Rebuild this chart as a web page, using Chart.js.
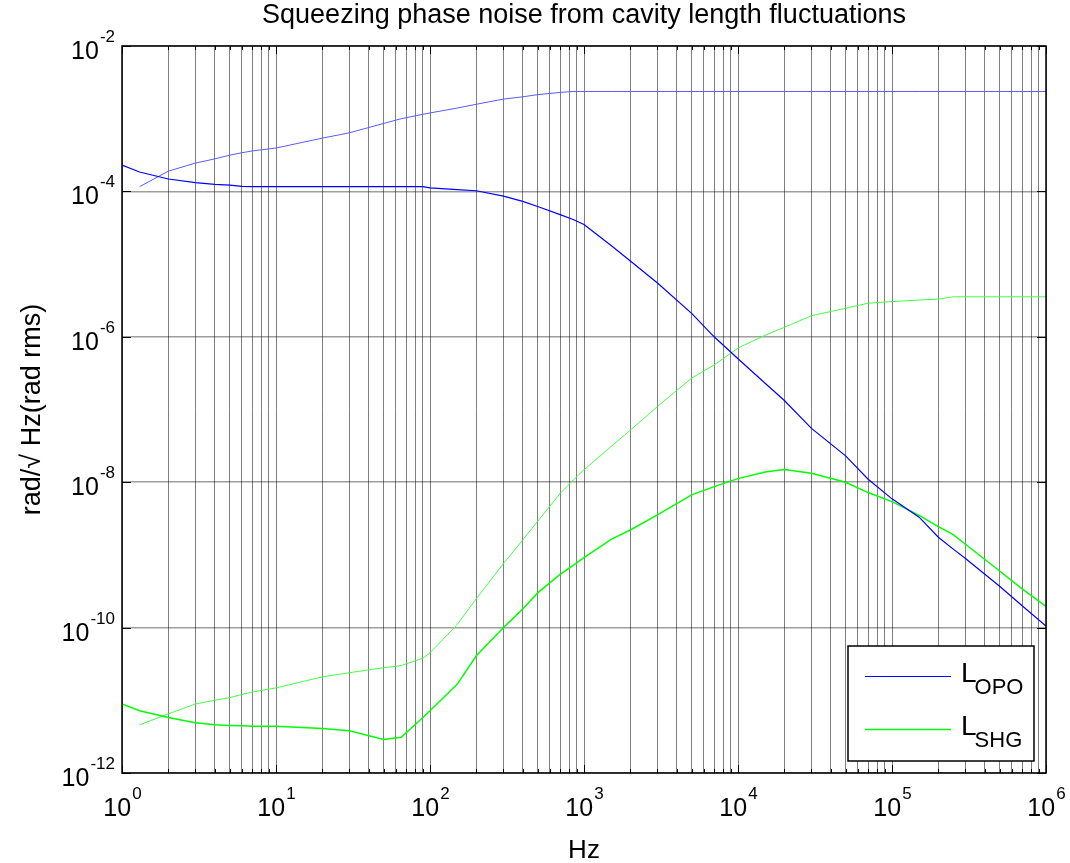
<!DOCTYPE html>
<html>
<head>
<meta charset="utf-8">
<script src="https://cdn.jsdelivr.net/npm/chart.js@4.4.1/dist/chart.umd.min.js"></script>
<style>
  html, body { margin: 0; padding: 0; background: #fff; }
  canvas { display: block; }
</style>
</head>
<body>
<canvas id="noise" width="1070" height="863"></canvas>
<script>
// frequency grid (Hz) shared by every trace
const freq = [1, 1.3, 2, 3, 4, 5, 6, 7, 10, 20, 30, 50, 65, 90,
  100, 150, 200, 300, 400, 500, 700, 850, 1000, 1500, 2000, 3000, 5000, 7000,
  1e4, 1.5e4, 2e4, 3e4, 5e4, 7e4, 1e5, 1.5e5, 2e5, 2.5e5, 3e5, 5e5, 7e5, 1e6];

// OPO length noise -> phase noise
const opoMain = [2.3e-4, 1.85e-4, 1.48e-4, 1.32e-4, 1.25e-4, 1.22e-4, 1.17e-4, 1.16e-4, 1.16e-4, 1.16e-4, 1.16e-4, 1.16e-4, 1.16e-4, 1.16e-4,
  1.12e-4, 1.06e-4, 1.02e-4, 8.6e-5, 7.3e-5, 6.2e-5, 4.8e-5, 4.1e-5, 3.5e-5, 1.8e-5, 1.1e-5, 5.5e-6, 2.1e-6, 1.0e-6,
  5.0e-7, 2.3e-7, 1.33e-7, 5.5e-8, 2.3e-8, 1.1e-8, 5.9e-9, 3.3e-9, 1.75e-9, 1.2e-9, 8.9e-10, 3.7e-10, 2.0e-10, 1.05e-10];
// OPO rms (cumulative)
const opoRms = [null, 1.16e-4, 1.9e-4, 2.45e-4, 2.8e-4, 3.15e-4, 3.4e-4, 3.6e-4, 3.95e-4, 5.4e-4, 6.4e-4, 8.6e-4, 1.0e-3, 1.15e-3,
  1.2e-3, 1.4e-3, 1.58e-3, 1.86e-3, 2.0e-3, 2.14e-3, 2.3e-3, 2.37e-3, 2.37e-3, 2.37e-3, 2.37e-3, 2.37e-3, 2.37e-3, 2.37e-3,
  2.37e-3, 2.37e-3, 2.37e-3, 2.37e-3, 2.37e-3, 2.37e-3, 2.37e-3, 2.37e-3, 2.37e-3, 2.37e-3, 2.37e-3, 2.37e-3, 2.37e-3, 2.37e-3];
// SHG length noise -> phase noise
const shgMain = [8.9e-12, 7.2e-12, 5.8e-12, 4.9e-12, 4.6e-12, 4.5e-12, 4.45e-12, 4.4e-12, 4.4e-12, 4.1e-12, 3.8e-12, 2.9e-12, 3.1e-12, 5.8e-12,
  7.2e-12, 1.66e-11, 4.1e-11, 1.0e-10, 1.8e-10, 3.0e-10, 5.4e-10, 7.2e-10, 9.2e-10, 1.64e-9, 2.2e-9, 3.55e-9, 6.7e-9, 8.7e-9,
  1.12e-8, 1.38e-8, 1.5e-8, 1.33e-8, 1.0e-8, 7.2e-9, 5.4e-9, 3.5e-9, 2.45e-9, 1.9e-9, 1.4e-9, 6.0e-10, 3.4e-10, 1.95e-10];
// SHG rms (cumulative)
const shgRms = [null, 4.6e-12, 6.5e-12, 8.9e-12, 1.0e-11, 1.09e-11, 1.2e-11, 1.3e-11, 1.48e-11, 2.1e-11, 2.4e-11, 2.8e-11, 3.0e-11, 3.8e-11,
  4.5e-11, 1.1e-10, 2.5e-10, 7.6e-10, 1.6e-9, 2.9e-9, 7.0e-9, 1.07e-8, 1.48e-8, 3.1e-8, 5.2e-8, 1.1e-7, 2.7e-7, 4.1e-7,
  7.0e-7, 1.05e-6, 1.35e-6, 1.95e-6, 2.47e-6, 2.9e-6, 3.05e-6, 3.2e-6, 3.3e-6, 3.55e-6, 3.55e-6, 3.55e-6, 3.55e-6, 3.55e-6];

// axis decades that get a label
const xTickExps = [0, 1, 2, 3, 4, 5, 6];
const yTickExps = [-2, -4, -6, -8, -10, -12];

const legendNames = [['L', 'OPO'], ['L', 'SHG']];

const FONT = '"Liberation Sans", Arial, Helvetica, sans-serif';

// 1..9 x 10^k for the vertical grid
const xGridVals = [];
for (let k = xTickExps[0]; k < xTickExps[xTickExps.length - 1]; k++) {
  for (let m = 1; m <= 9; m++) xGridVals.push(m * Math.pow(10, k));
}
xGridVals.push(Math.pow(10, xTickExps[xTickExps.length - 1]));
const yGridVals = yTickExps.map(e => Math.pow(10, e)).reverse();

function pts(arr) {
  return freq.map((f, i) => ({ x: f, y: arr[i] })).filter(p => p.y !== null);
}

// "10" with a raised exponent
function drawPow(ctx, exp, x, baseY, align) {
  ctx.font = `25px ${FONT}`;
  const bw = ctx.measureText('10').width;
  ctx.font = `17px ${FONT}`;
  const ew = ctx.measureText(String(exp)).width;
  let left;
  if (align === 'right') left = x - bw - ew;
  else left = x - (bw + ew) / 2;
  ctx.textAlign = 'left';
  ctx.textBaseline = 'alphabetic';
  ctx.font = `25px ${FONT}`;
  ctx.fillText('10', left, baseY);
  ctx.font = `17px ${FONT}`;
  ctx.fillText(String(exp), left + bw + 1, baseY - 17);
}

const decorations = {
  id: 'decorations',
  afterDraw(chart) {
    const { ctx, chartArea: a, scales: { x, y } } = chart;
    ctx.save();
    ctx.fillStyle = '#000';
    ctx.strokeStyle = '#000';

    // tick marks, inside the box
    ctx.lineWidth = 1;
    ctx.beginPath();
    xGridVals.forEach(v => {
      const px = Math.round(x.getPixelForValue(v)) + 0.5;
      const len = Number.isInteger(Math.log10(v)) ? 8 : 4;
      ctx.moveTo(px, a.top); ctx.lineTo(px, a.top + len);
      ctx.moveTo(px, a.bottom); ctx.lineTo(px, a.bottom - len);
    });
    yGridVals.forEach(v => {
      const py = Math.round(y.getPixelForValue(v)) + 0.5;
      ctx.moveTo(a.left, py); ctx.lineTo(a.left + 9, py);
      ctx.moveTo(a.right, py); ctx.lineTo(a.right - 9, py);
    });
    ctx.stroke();

    // axes box
    ctx.lineWidth = 1.5;
    ctx.strokeRect(a.left, a.top, a.right - a.left, a.bottom - a.top);

    // tick labels
    xTickExps.forEach(e => {
      drawPow(ctx, e, x.getPixelForValue(Math.pow(10, e)), a.bottom + 43, 'center');
    });
    yTickExps.forEach(e => {
      drawPow(ctx, e, a.left - 8, y.getPixelForValue(Math.pow(10, e)) + 13, 'right');
    });

    // title and axis labels
    ctx.textAlign = 'center';
    ctx.textBaseline = 'alphabetic';
    ctx.font = `27px ${FONT}`;
    ctx.fillText('Squeezing phase noise from cavity length fluctuations', (a.left + a.right) / 2, 23);
    ctx.font = `26px ${FONT}`;
    ctx.fillText('Hz', (a.left + a.right) / 2, a.bottom + 85);
    ctx.save();
    ctx.translate(40, (a.top + a.bottom) / 2);
    ctx.rotate(-Math.PI / 2);
    ctx.font = `27px ${FONT}`;
    ctx.fillText('rad/\u221A Hz(rad rms)', 0, 0);
    ctx.restore();

    // legend
    const bx = a.right - 198, by = a.bottom - 127, bw = 186, bh = 115;
    ctx.fillStyle = '#fff';
    ctx.fillRect(bx, by, bw, bh);
    ctx.lineWidth = 1.5;
    ctx.strokeStyle = '#000';
    ctx.strokeRect(bx, by, bw, bh);
    const entries = [chart.data.datasets[0], chart.data.datasets[2]];
    legendNames.forEach((nm, i) => {
      const ly = by + 30 + i * 53;
      ctx.strokeStyle = entries[i].borderColor;
      ctx.lineWidth = entries[i].borderWidth;
      ctx.beginPath();
      ctx.moveTo(bx + 17, ly + 0.5);
      ctx.lineTo(bx + 103, ly + 0.5);
      ctx.stroke();
      ctx.fillStyle = '#000';
      ctx.textAlign = 'left';
      ctx.font = `28px ${FONT}`;
      ctx.fillText(nm[0], bx + 113, ly + 6);
      const lw = ctx.measureText(nm[0]).width;
      ctx.font = `22px ${FONT}`;
      ctx.fillText(nm[1], bx + 113 + lw - 2, ly + 18);
    });
    ctx.restore();
  }
};

new Chart(document.getElementById('noise'), {
  type: 'scatter',
  data: {
    datasets: [
      { label: 'L_OPO', data: pts(opoMain), borderColor: '#0000ff', borderWidth: 1.2 },
      { label: 'OPO rms', data: pts(opoRms), borderColor: '#5a5aff', borderWidth: 1 },
      { label: 'L_SHG', data: pts(shgMain), borderColor: '#00ff00', borderWidth: 1.5 },
      { label: 'SHG rms', data: pts(shgRms), borderColor: '#44ff44', borderWidth: 1 }
    ].map(d => Object.assign(d, { showLine: true, pointRadius: 0, tension: 0, fill: false }))
  },
  options: {
    responsive: false,
    animation: false,
    devicePixelRatio: 1,
    layout: { padding: { left: 122, right: 24, top: 46, bottom: 90 } },
    plugins: { legend: { display: false }, tooltip: { enabled: false } },
    scales: {
      x: {
        type: 'logarithmic', min: 1, max: 1e6,
        afterBuildTicks: s => { s.ticks = xGridVals.map(v => ({ value: v })); },
        ticks: { display: false },
        border: { display: false },
        grid: { drawTicks: false, color: 'rgba(0,0,0,0.5)', lineWidth: 1 }
      },
      y: {
        type: 'logarithmic', min: 1e-12, max: 1e-2,
        afterBuildTicks: s => { s.ticks = yGridVals.map(v => ({ value: v })); },
        ticks: { display: false },
        border: { display: false },
        grid: { drawTicks: false, color: 'rgba(0,0,0,0.38)', lineWidth: 1.5 }
      }
    }
  },
  plugins: [decorations]
});
</script>
</body>
</html>
